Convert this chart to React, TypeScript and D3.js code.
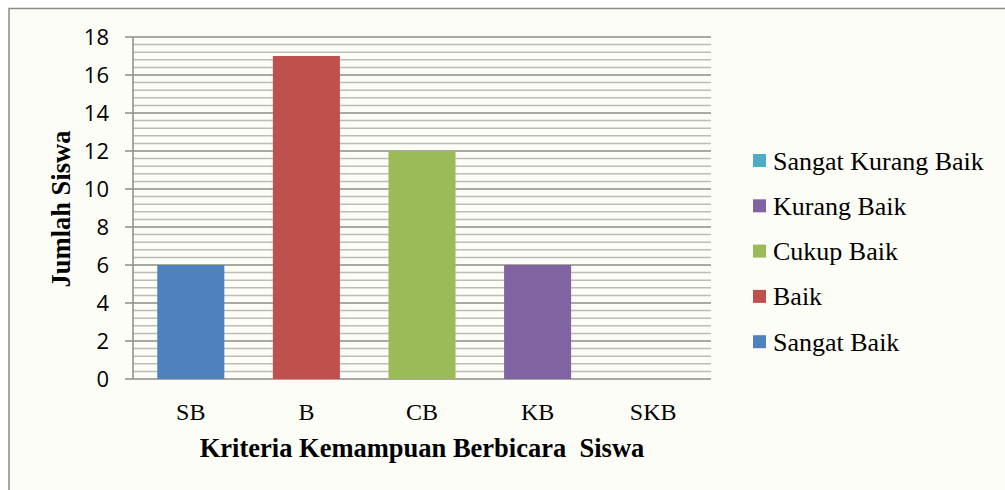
import React from "react";
import * as d3 from "d3";

const categories = ["SB", "B", "CB", "KB", "SKB"];
const values = [6, 17, 12, 6, 0];
const colors = ["#4F81BD", "#C0504D", "#9BBB59", "#8064A2", "#4BACC6"];
const legendLabels = ["Sangat Kurang Baik", "Kurang Baik", "Cukup Baik", "Baik", "Sangat Baik"];
const legendColors = ["#4BACC6", "#8064A2", "#9BBB59", "#C0504D", "#4F81BD"];
const yTicks = [0, 2, 4, 6, 8, 10, 12, 14, 16, 18];

export default function App() {
  const W = 1005, H = 490;
  const left = 133, right = 711, top = 37, bottom = 379;
  const x = d3.scaleBand().domain(categories).range([left, right]).paddingInner(0.42).paddingOuter(0.21);
  const y = d3.scaleLinear().domain([0, 18]).range([bottom, top]);
  const minor = d3.range(0, 18.001, 0.4).map((v) => Math.round(v * 10) / 10).filter((v) => Math.abs(v / 2 - Math.round(v / 2)) > 1e-6);
  const serif = "'Liberation Serif', 'Times New Roman', Times, serif";
  const sans = "'Open Sans', sans-serif";
  return (
    <svg width={W} height={H} style={{ position: "absolute", left: 0, top: 0, background: "#fff" }}>
      <rect x={9} y={8.5} width={1010} height={500} fill="#FDFDF7" stroke="#8a8a8a" strokeWidth={1.5} />
      {minor.map((v) => (
        <line key={"m" + v} x1={left} x2={right} y1={y(v)} y2={y(v)} stroke="#BDBDB5" strokeWidth={1.5} />
      ))}
      {yTicks.map((v) => (
        <line key={"g" + v} x1={left - 8} x2={right} y1={y(v)} y2={y(v)} stroke="#8C8C88" strokeWidth={1.5} />
      ))}
      <line x1={left} x2={left} y1={top} y2={bottom} stroke="#8C8C88" strokeWidth={1.5} />
      {categories.map((c, i) => (
        <rect key={c} x={x(c)} width={x.bandwidth()} y={y(values[i])} height={y(0) - y(values[i])} fill={colors[i]} />
      ))}
      {yTicks.map((v) => (
        <text key={"t" + v} x={109} y={y(v)} dy="0.36em" textAnchor="end" style={{ fontFamily: sans, fontSize: 22 }} fill="#000">
          {v}
        </text>
      ))}
      {categories.map((c) => (
        <text key={"x" + c} x={(x(c) as number) + x.bandwidth() / 2} y={420} textAnchor="middle" style={{ fontFamily: serif, fontSize: 24 }} fill="#000">
          {c}
        </text>
      ))}
      <text x={422} y={457} textAnchor="middle" style={{ fontFamily: serif, fontSize: 26.5, fontWeight: "bold", whiteSpace: "pre" }} fill="#000">
        {"Kriteria Kemampuan Berbicara  Siswa"}
      </text>
      <text transform="translate(70,209) rotate(-90)" textAnchor="middle" style={{ fontFamily: serif, fontSize: 26.5, fontWeight: "bold" }} fill="#000">
        Jumlah Siswa
      </text>
      {legendLabels.map((l, i) => (
        <g key={l} transform={`translate(753,${161 + i * 45.3})`}>
          <rect x={0} y={-7} width={13} height={13} fill={legendColors[i]} />
          <text x={20} y={0} dy="0.33em" style={{ fontFamily: serif, fontSize: 26 }} fill="#000">
            {l}
          </text>
        </g>
      ))}
    </svg>
  );
}
